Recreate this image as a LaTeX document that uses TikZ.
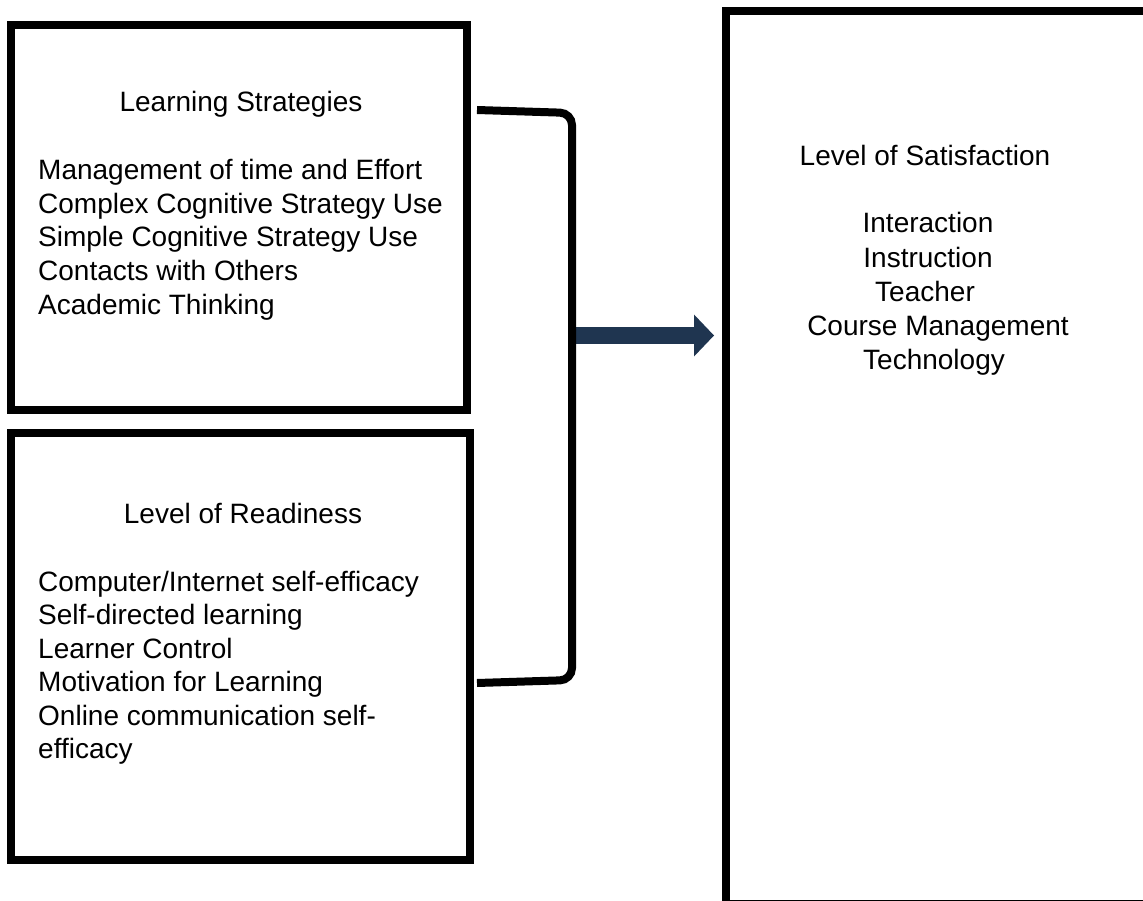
\documentclass[tikz,border=0pt]{standalone}
\usepackage{fontspec}
\setmainfont{Liberation Sans}
\usetikzlibrary{arrows.meta}
\definecolor{navy}{HTML}{1F3550}
\tikzset{box/.style = {draw, rectangle, line width=8pt, inner sep=0pt},
         txt/.style = {font=\fontsize{28}{33.6}\selectfont, inner sep=0pt},
         head/.style = {txt, anchor=base},
         item/.style = {txt, anchor=base west},
         flow/.style = {draw=navy, line width=17pt,
                        -{Triangle[width=42pt, length=20pt, line width=0pt]}}}

\begin{document}
\begin{tikzpicture}[x=1pt, y=-1pt]
\useasboundingbox (0,0) rectangle (1143,901);
\clip (0,0) rectangle (1143,901);

\node [box, minimum width=456pt, minimum height=385pt] (ls) at (239,217.5) {};
\node [box, minimum width=459pt, minimum height=427pt] (lr) at (240.5,646.5) {};
\node [box, minimum width=424pt, minimum height=893pt] (sat) at (938,457.5) {};

\node [head] (lshead) at (241,112) {Learning Strategies};
\foreach \t [count=\i] in {Management of time and Effort,
    Complex Cognitive Strategy Use, Simple Cognitive Strategy Use,
    Contacts with Others, Academic Thinking}
  \node [item] (ls\i) at (38,{180+(\i-1)*33.5}) {\t};

\node [head] (lrhead) at (243,523) {Level of Readiness};
\foreach \t [count=\i] in {Computer/Internet self-efficacy,
    Self-directed learning, Learner Control, Motivation for Learning,
    Online communication self-, efficacy}
  \node [item] (lr\i) at (38,{591+(\i-1)*33.5}) {\t};

\node [head] (sathead) at (925,166) {Level of Satisfaction};
\foreach \t/\x [count=\i] in {Interaction/928, Instruction/928, Teacher/925,
    Course Management/938, Technology/934}
  \node [head] (sat\i) at (\x,{233+(\i-1)*34.2}) {\t};

% bracket joining the two left boxes
\coordinate (brtop) at (477,110);
\coordinate (brbot) at (477,683);
\coordinate (join) at (572,335.5);
\draw [flow, shorten >=8pt] (join) -- (sat.west |- join);
\draw [line width=8pt, rounded corners=12pt] (brtop) -- (572,113) -- (572,680) -- (brbot);
\end{tikzpicture}
\end{document}
